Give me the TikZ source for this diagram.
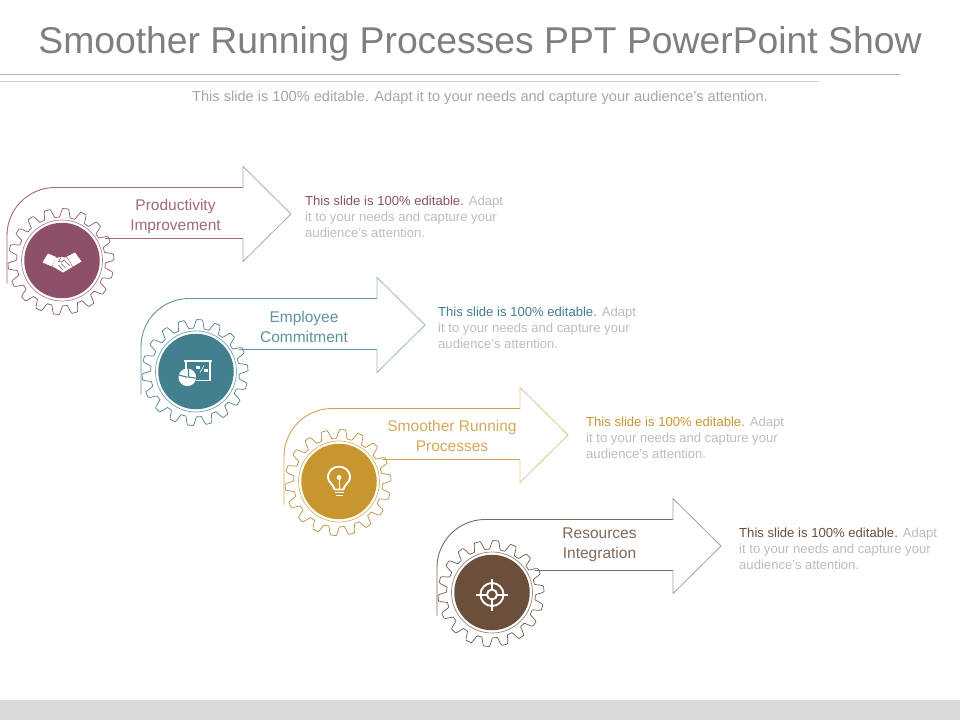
\documentclass[tikz,border=0pt]{standalone}
\usepackage{fontspec}
\setmainfont{Liberation Sans}
\definecolor{cmaroon}{HTML}{8E4F68}
\definecolor{cteal}{HTML}{43808F}
\definecolor{cgold}{HTML}{C8962E}
\definecolor{cbrown}{HTML}{6B4F3A}
\definecolor{ctitle}{HTML}{7F7F7F}
\definecolor{csub}{HTML}{A6A6A6}
\definecolor{cbody}{HTML}{BDBDBD}
\tikzset{
  outline/.style={line width=0.9pt,line join=miter},
  headline/.style={line width=0.8pt,line join=miter},
  geartrace/.style={line width=0.7pt,line join=round},
  steplabel/.style={align=center,font=\fontsize{15.5}{20}\selectfont,inner sep=0pt},
  sidetext/.style={align=left,anchor=west,inner sep=0pt,text=cbody,font=\fontsize{13.1}{16}\selectfont},
  iconl/.style={draw=white,line width=1.9pt,fill=none},
}
% #1 gear x, #2 gear y, #3 colour, #4 name
\newcommand{\stepshape}[4]{%
  \begin{scope}[shift={(#1,#2)}]
    \draw[outline,#3!85!white] (-55,23) -- (-55,-25) .. controls (-55,-51.5) and (-33.5,-73) .. (-7,-73) -- (181,-73);
    \draw[headline,#3!55!white] (181,-73) -- (181,-94) -- (229,-46.5) -- (181,1) -- (181,-22);
    \draw[outline,#3!85!white] (181,-22) -- (43,-22);
    \fill[white] (-1,1) circle (44);
    \draw[geartrace,#3!75!gray] plot[smooth,domain=0:360,samples=361,variable=\t]
      ({-1+(48.7+4.3*max(-1,min(1,2*sin(18*\t+180))))*cos(\t)},{1+(48.7+4.3*max(-1,min(1,2*sin(18*\t+180))))*sin(\t)}) -- cycle;
    \draw[line width=0.7pt,#3!70!white] (0,0) circle (40.5);
    \node[circle,fill=#3,minimum size=75.5pt,inner sep=0pt] (#4) at (0,0) {};
  \end{scope}}
\begin{document}
\begin{tikzpicture}[x=1pt,y=-1pt]
\useasboundingbox (0,0) rectangle (960,720);
\fill[white] (0,0) rectangle (960,720);
\fill[black!15] (0,700) rectangle (960,720);
\node[inner sep=0pt,text=ctitle,font=\fontsize{37.3}{40}\selectfont] (title) at (480,43.5) {Smoother Running Processes PPT PowerPoint Show};
\draw[black!30,line width=0.9pt] (0,74) -- (900,74);
\draw[black!18,line width=0.9pt] (0,81.5) -- (819,81.5);
\node[inner sep=0pt,text=csub,font=\fontsize{14.6}{16}\selectfont] (subtitle) at (480,97.5) {This slide is 100\% editable. Adapt it to your needs and capture your audience’s attention.};

\stepshape{62}{260.5}{cmaroon}{g1}
\stepshape{196}{371.5}{cteal}{g2}
\stepshape{339}{481.5}{cgold}{g3}
\stepshape{492}{592.5}{cbrown}{g4}

\node[steplabel,text=cmaroon!85!white] (l1) at (175.5,216) {Productivity\\Improvement};
\node[steplabel,text=cteal!85!white] (l2) at (304,326.5) {Employee\\Commitment};
\node[steplabel,text=cgold!80!white] (l3) at (452,435.5) {Smoother Running\\Processes};
\node[steplabel,text=cbrown!85!white] (l4) at (599.5,544.5) {Resources\\Integration};

\node[sidetext] (t1) at (305,216.5) {\textcolor{cmaroon}{This slide is 100\% editable.} Adapt\\it to your needs and capture your\\audience's attention.};
\node[sidetext] (t2) at (438,327.5) {\textcolor{cteal}{This slide is 100\% editable.} Adapt\\it to your needs and capture your\\audience's attention.};
\node[sidetext] (t3) at (586,437.5) {\textcolor{cgold}{This slide is 100\% editable.} Adapt\\it to your needs and capture your\\audience's attention.};
\node[sidetext] (t4) at (739,548.5) {\textcolor{cbrown}{This slide is 100\% editable.} Adapt\\it to your needs and capture your\\audience's attention.};

% handshake
\begin{scope}[shift={(g1)}]
  \fill[white] (-19.5,2) -- (-14,-7) -- (-6,-3.5) -- (-10,6) -- cycle;
  \fill[white] (19.5,1) -- (13,-8) -- (5,-4) -- (11,6) -- cycle;
  \fill[white] (-6.5,-2.5) -- (-1,-3.5) -- (5,-3) -- (10.5,6.5) -- (6,9) -- (1,12) -- (-4,9) -- (-9.5,6) -- cycle;
  \draw[cmaroon,line width=0.6pt] (-1,-3) -- (-3.5,1) -- (-0.5,1.5) -- (2,-0.5) -- (8,5.5) (-3.5,4.5) -- (0.5,9) (-1,3) -- (3.5,7.5);
\end{scope}
% presentation with pie
\begin{scope}[shift={(g2)}]
  \fill[white] (-12,-12) rectangle (16,-9.5);
  \draw[white,line width=1.5pt] (-10,-9.5) -- (-10,-3) (14,-9.5) -- (14,9) -- (0,9);
  \fill[white] (0,-6) rectangle (4,-3);
  \fill[white] (8,-3) rectangle (12,0);
  \draw[white,line width=0.6pt] (4,1) -- (8,-6);
  \fill[white] (-8.7,5.8) circle (8.8);
  \draw[cteal,line width=1.1pt] (-7.5,5.5) -- (-7.5,-4) (-7.5,5.5) -- (2,7) (-8.7,5.8) -- (-17,3.5);
\end{scope}
% bulb
\begin{scope}[shift={(g3)}]
  \draw[iconl] (-4.5,8) .. controls (-5,3) and (-11,1) .. (-11,-4) .. controls (-11,-18.5) and (11,-18.5) .. (11,-4) .. controls (11,1) and (5,3) .. (4.5,8) -- cycle;
  \draw[white,line width=1.7pt] (-4.5,11) -- (4.5,11) (-3.5,14) -- (3.5,14);
  \draw[white,line width=1pt] (0,8) -- (0,-3);
  \fill[white] (0,-4) circle (2.4);
\end{scope}
% target
\begin{scope}[shift={(g4)}]
  \draw[iconl] (0,2) circle (11.5);
  \draw[iconl] (0,2) circle (5);
  \draw[white,line width=2pt] (-16,2) -- (-5,2) (5,2) -- (16,2) (0,-14) -- (0,-3) (0,7) -- (0,18);
\end{scope}
\end{tikzpicture}
\end{document}
